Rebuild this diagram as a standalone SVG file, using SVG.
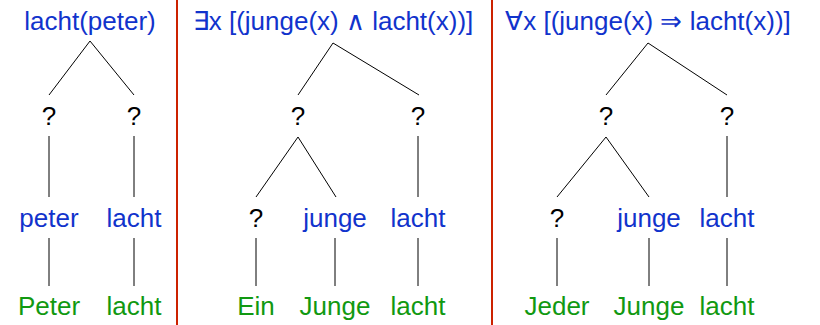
<svg xmlns="http://www.w3.org/2000/svg" width="820" height="325" viewBox="0 0 820 325">
  <style>
    text { font-family: "Liberation Sans", Arial, sans-serif; font-size: 26px; text-anchor: middle; }
    .sem { fill: #1133cc; }
    .word { fill: #119911; }
    .q { fill: #000000; }
    .edge { stroke: #000000; stroke-width: 1; fill: none; }
    .sep { stroke: #cc2200; stroke-width: 2; }
  </style>
  <rect width="820" height="325" fill="#ffffff"/>

  <!-- panel separators -->
  <g id="separators">
    <line class="sep" x1="177" y1="0" x2="177" y2="325"/>
    <line class="sep" x1="492" y1="0" x2="492" y2="325"/>
  </g>

  <!-- tree edges -->
  <g id="connectors">
    <!-- tree 1: Peter lacht -->
    <path class="edge" d="M90 41 L49 95 M90 41 L134 95"/>
    <path class="edge" d="M49 136 V197 M134 136 V197"/>
    <path class="edge" d="M49 238 V286 M134 238 V286"/>
    <!-- tree 2: Ein Junge lacht -->
    <path class="edge" d="M333 43 L298 95 M333 43 L419 95"/>
    <path class="edge" d="M298 137 L256 197 M298 137 L336 197"/>
    <path class="edge" d="M418 136 V197"/>
    <path class="edge" d="M256 238 V286 M335 238 V286 M418 238 V286"/>
    <!-- tree 3: Jeder Junge lacht -->
    <path class="edge" d="M648 43 L606 95 M648 43 L727 95"/>
    <path class="edge" d="M606 137 L557 197 M606 137 L649 197"/>
    <path class="edge" d="M727 136 V197"/>
    <path class="edge" d="M557 238 V286 M649 238 V286 M727 238 V286"/>
  </g>

  <!-- tree 1 -->
  <g id="t1-root"><text class="sem" x="90" y="30">lacht(peter)</text></g>
  <g id="t1-q1"><text class="q" x="49" y="125">?</text></g>
  <g id="t1-q2"><text class="q" x="134" y="125">?</text></g>
  <g id="t1-peter"><text class="sem" x="49" y="227">peter</text></g>
  <g id="t1-lacht"><text class="sem" x="134" y="227">lacht</text></g>
  <g id="t1-w-peter"><text class="word" x="49" y="315">Peter</text></g>
  <g id="t1-w-lacht"><text class="word" x="134" y="315">lacht</text></g>

  <!-- tree 2 -->
  <g id="t2-root"><text class="sem" x="333" y="30">∃x [(junge(x) ∧ lacht(x))]</text></g>
  <g id="t2-q1"><text class="q" x="298" y="125">?</text></g>
  <g id="t2-q2"><text class="q" x="418" y="125">?</text></g>
  <g id="t2-q3"><text class="q" x="256" y="227">?</text></g>
  <g id="t2-junge"><text class="sem" x="335" y="227">junge</text></g>
  <g id="t2-lacht"><text class="sem" x="418" y="227">lacht</text></g>
  <g id="t2-w-ein"><text class="word" x="256" y="315">Ein</text></g>
  <g id="t2-w-junge"><text class="word" x="335" y="315">Junge</text></g>
  <g id="t2-w-lacht"><text class="word" x="418" y="315">lacht</text></g>

  <!-- tree 3 -->
  <g id="t3-root"><text class="sem" x="648" y="30">∀x [(junge(x) ⇒ lacht(x))]</text></g>
  <g id="t3-q1"><text class="q" x="606" y="125">?</text></g>
  <g id="t3-q2"><text class="q" x="727" y="125">?</text></g>
  <g id="t3-q3"><text class="q" x="557" y="227">?</text></g>
  <g id="t3-junge"><text class="sem" x="649" y="227">junge</text></g>
  <g id="t3-lacht"><text class="sem" x="727" y="227">lacht</text></g>
  <g id="t3-w-jeder"><text class="word" x="557" y="315">Jeder</text></g>
  <g id="t3-w-junge"><text class="word" x="649" y="315">Junge</text></g>
  <g id="t3-w-lacht"><text class="word" x="727" y="315">lacht</text></g>
</svg>
